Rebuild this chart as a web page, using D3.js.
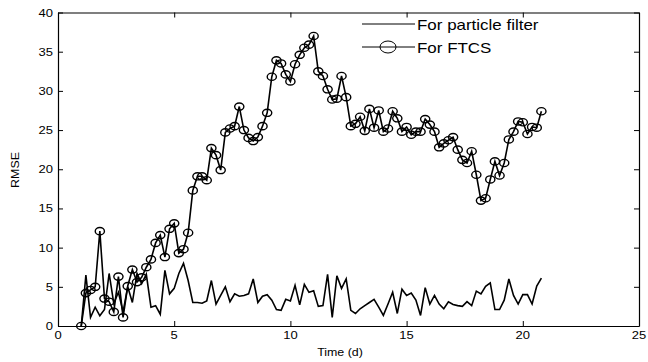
<!DOCTYPE html>
<html>
<head>
<meta charset="utf-8">
<script src="https://cdn.jsdelivr.net/npm/d3@7"></script>
<style>
  html, body { margin: 0; padding: 0; background: #fff; }
  svg { display: block; }
  text { font-family: "Liberation Sans", Arial, sans-serif; fill: #000; }
</style>
</head>
<body>
<div id="chart"></div>
<script>
// ---------- data ----------
// time axis: sampled every 0.2 d from day 1
const timeDays = d3.range(100).map(i => +(1 + 0.2 * i).toFixed(1));

const particleRmse = [
  0, 6.5, 1.1, 2.4, 1.3, 2.1, 6.7, 2.9, 4.3, 1.8,
  5.0, 3.0, 6.7, 5.4, 6.6, 2.4, 2.6, 1.5, 7.1, 4.1,
  4.8, 6.7, 8.0, 5.8, 3.0, 3.0, 2.9, 3.2, 5.8, 2.8,
  3.9, 5.0, 3.1, 4.1, 3.8, 3.9, 4.1, 6.0, 3.0, 3.8,
  4.0, 3.3, 2.1, 2.0, 3.4, 3.2, 5.2, 2.7, 5.3, 4.3,
  4.5, 2.5, 2.6, 6.6, 1.1, 6.4, 4.8, 6.0, 2.0, 1.6,
  2.2, 2.6, 3.0, 3.4, 2.4, 1.35, 2.8, 4.3, 1.6, 4.7,
  3.9, 4.2, 3.3, 1.35, 4.9, 2.8, 3.9, 2.8, 2.2, 3.1,
  2.75, 2.6, 2.5, 3.1, 2.6, 4.45, 4.1, 5.05, 5.5, 2.1,
  2.1, 3.3, 6.0, 3.9, 2.8, 4.0, 4.0, 2.8, 5.1, 6.1
];

const ftcsRmse = [
  0, 4.2, 4.6, 5.0, 12.1, 3.5, 3.1, 1.8, 6.3, 1.1,
  5.1, 7.2, 5.6, 6.2, 7.5, 8.5, 10.6, 11.6, 8.8, 12.4,
  13.1, 9.3, 9.8, 11.9, 17.3, 19.1, 19.1, 18.6, 22.7, 21.8,
  19.9, 24.7, 25.2, 25.5, 28.0, 25.0, 24.0, 23.6, 24.1, 25.5,
  27.2, 31.8, 33.9, 33.5, 32.1, 31.2, 33.4, 34.6, 35.5, 35.9,
  37.0, 32.5, 31.9, 30.2, 28.9, 29.0, 31.9, 29.2, 25.5, 25.8,
  26.7, 24.9, 27.7, 25.3, 27.5, 24.8, 25.2, 27.4, 26.5, 24.8,
  25.4, 24.4, 24.8, 24.8, 26.4, 25.7, 24.8, 22.8, 23.3, 23.7,
  24.1, 22.5, 21.2, 20.8, 22.3, 19.3, 16.0, 16.3, 18.7, 21.0,
  19.2, 20.8, 23.8, 24.8, 26.1, 26.0, 24.5, 25.4, 25.3, 27.4
];

const xTicks = [0, 5, 10, 15, 20, 25];
const yTicks = [0, 5, 10, 15, 20, 25, 30, 35, 40];
const legendLabels = ["For particle filter", "For FTCS"];

// ---------- layout ----------
const W = 648, H = 362;
const box = { left: 58, right: 639, top: 12.5, bottom: 326 };
const SX = 1.13; // the original picture is a bit stretched sideways

const svg = d3.select("#chart").append("svg")
  .attr("width", W).attr("height", H);

const x = d3.scaleLinear().domain([0, 25]).range([box.left, box.right]);
const y = d3.scaleLinear().domain([0, 40]).range([box.bottom, box.top]);

function label(g, str, px, py, size, anchor, rotate) {
  const t = g.append("text")
    .attr("transform", `translate(${px},${py})` + (rotate ? ` rotate(${rotate})` : "") + ` scale(${SX},1)`)
    .attr("font-size", size)
    .attr("text-anchor", anchor || "middle")
    .text(str);
  return t;
}

// ---------- series ----------
const line = d3.line()
  .x((d, i) => x(timeDays[i]))
  .y(d => y(d));

svg.append("path")
  .datum(particleRmse)
  .attr("d", line)
  .attr("fill", "none")
  .attr("stroke", "#000")
  .attr("stroke-width", 1.6)
  .attr("stroke-linejoin", "miter");

svg.append("path")
  .datum(ftcsRmse)
  .attr("d", line)
  .attr("fill", "none")
  .attr("stroke", "#000")
  .attr("stroke-width", 1.6);

svg.append("g").selectAll("ellipse")
  .data(ftcsRmse)
  .join("ellipse")
  .attr("cx", (d, i) => x(timeDays[i]))
  .attr("cy", d => y(d))
  .attr("rx", 4.6)
  .attr("ry", 3.6)
  .attr("fill", "none")
  .attr("stroke", "#000")
  .attr("stroke-width", 1.4);

// ---------- axes (matlab style box, inward ticks) ----------
const axisG = svg.append("g");
const xAxisB = d3.axisBottom(x).tickValues(xTicks).tickSizeInner(-5).tickSizeOuter(0).tickFormat("");
const xAxisT = d3.axisTop(x).tickValues(xTicks).tickSizeInner(-5).tickSizeOuter(0).tickFormat("");
const yAxisL = d3.axisLeft(y).tickValues(yTicks).tickSizeInner(-5).tickSizeOuter(0).tickFormat("");
const yAxisR = d3.axisRight(y).tickValues(yTicks).tickSizeInner(-5).tickSizeOuter(0).tickFormat("");

axisG.append("g").attr("transform", `translate(0,${box.bottom})`).call(xAxisB);
axisG.append("g").attr("transform", `translate(0,${box.top})`).call(xAxisT);
axisG.append("g").attr("transform", `translate(${box.left},0)`).call(yAxisL);
axisG.append("g").attr("transform", `translate(${box.right},0)`).call(yAxisR);
axisG.selectAll("path.domain").attr("stroke", "#000").attr("stroke-width", 1.2);
axisG.selectAll(".tick line").attr("stroke", "#000").attr("stroke-width", 1);

// tick labels
xTicks.forEach(v => label(svg, v, x(v), 339, 11.5, "middle"));
yTicks.forEach(v => label(svg, v, 53, y(v) + 4, 11.5, "end"));

// axis titles
label(svg, "Time (d)", 340, 356, 11, "middle");
label(svg, "RMSE", 19, 170, 11, "middle", -90);

// ---------- legend ----------
const leg = svg.append("g");
const rows = [24, 47];
rows.forEach((ly, k) => {
  leg.append("line")
    .attr("x1", 362).attr("x2", 415)
    .attr("y1", ly).attr("y2", ly)
    .attr("stroke", "#000").attr("stroke-width", 1);
  if (k === 1) {
    leg.append("ellipse")
      .attr("cx", 388).attr("cy", ly)
      .attr("rx", 8).attr("ry", 6)
      .attr("fill", "none").attr("stroke", "#000").attr("stroke-width", 1);
  }
  label(leg, legendLabels[k], 417, ly + 5.5, 15, "start");
});
</script>
</body>
</html>
